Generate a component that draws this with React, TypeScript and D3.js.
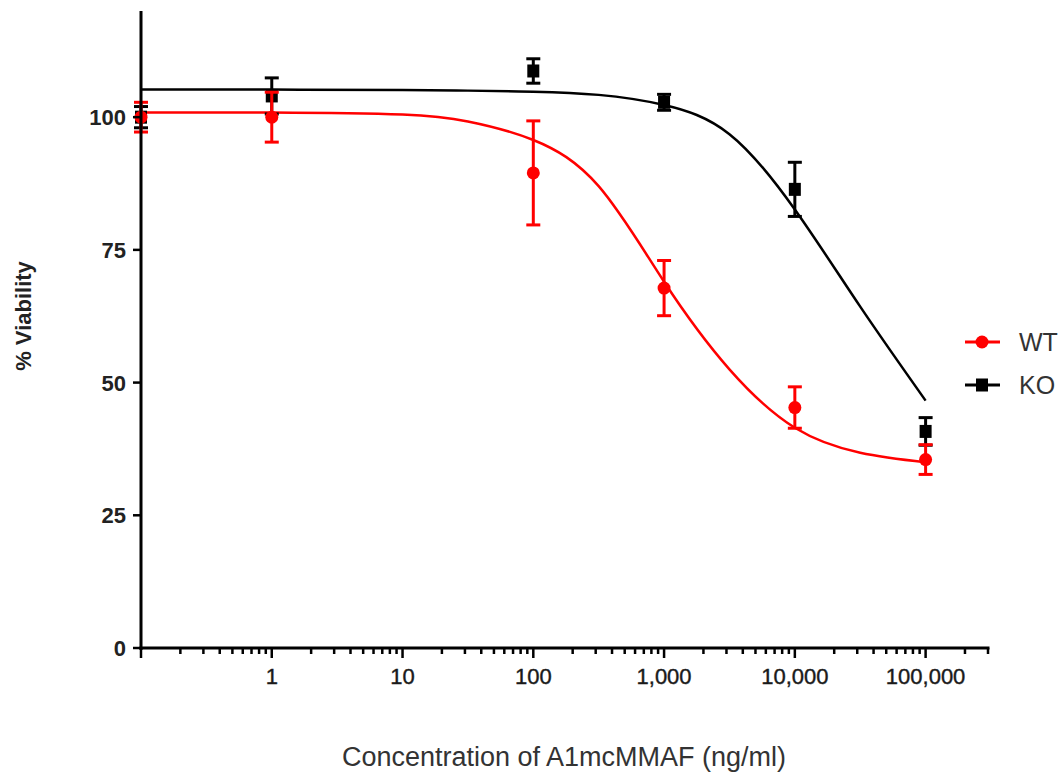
import React from 'react';
import * as d3 from 'd3';

// measured concentrations (ng/ml)
const concentrations = [0.1, 1, 100, 1000, 10000, 100000];

// % viability, mean and error for each genotype
const wtMean = [100, 100, 89.5, 67.8, 45.3, 35.5];
const wtErr = [2.8, 4.7, 9.8, 5.2, 3.9, 2.8];
const koMean = [100, 104, 108.7, 102.8, 86.4, 40.8];
const koErr = [2, 3.4, 2.3, 1.5, 5.1, 2.6];

// fitted curves
const fitConc = [0.1, 1, 10, 31.6, 100, 316, 1000, 3162, 10000, 31623, 100000];
const wtFit = [100.9, 100.9, 100.5, 99.2, 95.7, 87, 69, 52.5, 41.5, 36.8, 35];
const koFit = [105.2, 105.2, 105.1, 105, 104.8, 104.2, 102.3, 96.8, 82.6, 64.3, 46.6];

// axis ticks
const xMajor = [0.1, 1, 10, 100, 1000, 10000, 100000];
const xLabels = ['', '1', '10', '100', '1,000', '10,000', '100,000'];
const yTicks = [0, 25, 50, 75, 100];

const width = 1064;
const height = 776;
const font = 'Liberation Sans, Arial, sans-serif';

const App = () => {
  const x = d3.scaleLog().domain([0.1, 300000]).range([141, 988]);
  const y = d3.scaleLinear().domain([0, 120]).range([648, 11]);

  // minor ticks 2..9 in each decade, plus 200k / 300k at the end
  const xMinor: number[] = [];
  xMajor.forEach(d => {
    for (let m = 2; m <= 9; m++) {
      const v = d * m;
      if (v <= 300000) xMinor.push(v);
    }
  });

  const line = d3.line<[number, number]>()
    .x(d => x(d[0]))
    .y(d => y(d[1]))
    .curve(d3.curveNatural);

  const series = [
    { name: 'KO', color: '#000000', mean: koMean, err: koErr, fit: koFit, shape: 'square' },
    { name: 'WT', color: '#ff0000', mean: wtMean, err: wtErr, fit: wtFit, shape: 'circle' },
  ];

  const legend = [
    { name: 'WT', color: '#ff0000', shape: 'circle', y: 342 },
    { name: 'KO', color: '#000000', shape: 'square', y: 385 },
  ];

  return (
    <svg width={width} height={height} style={{ position: 'absolute', left: 0, top: 0, background: '#fff' }}>
      {/* fitted curves */}
      {series.map(s => (
        <path
          key={'fit' + s.name}
          d={line(fitConc.map((c, i) => [c, s.fit[i]] as [number, number])) || ''}
          fill="none"
          stroke={s.color}
          strokeWidth={2.5}
        />
      ))}

      {/* error bars and markers */}
      {series.map(s => (
        <g key={'pts' + s.name} stroke={s.color} fill={s.color}>
          {concentrations.map((c, i) => {
            const cx = x(c);
            const top = y(s.mean[i] + s.err[i]);
            const bot = y(s.mean[i] - s.err[i]);
            return (
              <g key={i}>
                <line x1={cx} x2={cx} y1={top} y2={bot} strokeWidth={3} />
                <line x1={cx - 7} x2={cx + 7} y1={top} y2={top} strokeWidth={3} />
                <line x1={cx - 7} x2={cx + 7} y1={bot} y2={bot} strokeWidth={3} />
                {s.shape === 'circle'
                  ? <circle cx={cx} cy={y(s.mean[i])} r={6.5} stroke="none" />
                  : <rect x={cx - 6} y={y(s.mean[i]) - 6.5} width={12} height={13} stroke="none" />}
              </g>
            );
          })}
        </g>
      ))}

      {/* y axis */}
      <line x1={141} x2={141} y1={11} y2={650} stroke="#000" strokeWidth={3} />
      {yTicks.map(t => (
        <g key={'y' + t}>
          <line x1={133} x2={141} y1={y(t)} y2={y(t)} stroke="#000" strokeWidth={2.5} />
          <text x={126} y={y(t)} dy="0.36em" textAnchor="end" fontFamily={font} fontSize={22}
            fontWeight="bold" fill="#222">{t}</text>
        </g>
      ))}
      <text transform="translate(31,316) rotate(-90)" textAnchor="middle" fontFamily={font}
        fontSize={22} fontWeight="bold" fill="#222">% Viability</text>

      {/* x axis */}
      <line x1={139.5} x2={989.5} y1={648} y2={648} stroke="#000" strokeWidth={3} />
      {xMinor.map(t => (
        <line key={'xm' + t} x1={x(t)} x2={x(t)} y1={648} y2={654} stroke="#000" strokeWidth={2.5} />
      ))}
      {xMajor.map((t, i) => (
        <g key={'xM' + t}>
          <line x1={x(t)} x2={x(t)} y1={648} y2={658} stroke="#000" strokeWidth={2.5} />
          <text x={x(t)} y={684} textAnchor="middle" fontFamily={font} fontSize={22}
            fill="#1a1a1a" stroke="#1a1a1a" strokeWidth={0.4}>{xLabels[i]}</text>
        </g>
      ))}
      <text x={564} y={766} textAnchor="middle" fontFamily={font} fontSize={27}
        fill="#333">Concentration of A1mcMMAF (ng/ml)</text>

      {/* legend */}
      {legend.map(l => (
        <g key={'lg' + l.name}>
          <line x1={965} x2={1000} y1={l.y} y2={l.y} stroke={l.color} strokeWidth={3} />
          {l.shape === 'circle'
            ? <circle cx={982} cy={l.y} r={6.5} fill={l.color} />
            : <rect x={976} y={l.y - 6.5} width={12} height={13} fill={l.color} />}
          <text x={1019} y={l.y} dy="0.36em" fontFamily={font} fontSize={25} fill="#333">{l.name}</text>
        </g>
      ))}
    </svg>
  );
};

export default App;
